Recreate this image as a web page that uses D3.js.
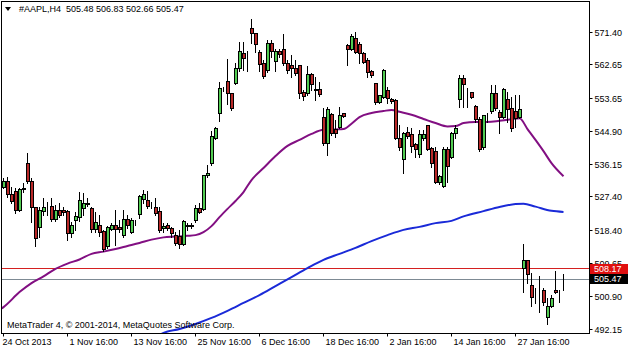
<!DOCTYPE html>
<html>
<head>
<meta charset="utf-8">
<script src="https://cdn.jsdelivr.net/npm/d3@7"></script>
<style>
  body { margin: 0; background: #fff; }
  text { font-family: "Liberation Sans", Arial, sans-serif; font-size: 9px; fill: #000; }
</style>
</head>
<body>
<div id="chart"></div>
<script>
// H4 bars, oldest first
let opens = [529.96,531.46,527.91,528.79,523.90,529.43,536.18,531.46,524.63,519.29,523.45,524.63,524.97,521.24,523.90,523.90,523.45,517.69,521.05,521.95,
  524.36,525.51,524.36,518.57,519.90,518.12,514.11,518.76,519.90,519.29,517.23,521.24,517.85,521.05,522.57,526.76,526.57,524.97,524.57,523.45,
  519.02,519.90,519.02,517.23,516.70,514.75,519.63,519.68,521.05,524.36,524.09,532.98,536.18,543.04,549.53,556.28,558.15,555.05,557.72,561.54,
  565.73,564.55,572.40,571.06,565.99,562.87,561.08,568.21,563.48,566.15,566.79,563.06,562.34,561.72,562.34,555.21,555.05,559.93,555.93,556.12,
  548.65,541.71,549.26,545.26,545.87,549.53,567.67,566.79,569.73,567.94,565.73,563.75,560.82,557.53,552.54,553.98,555.66,553.45,553.00,543.04,
  537.25,544.53,544.11,541.25,538.58,543.04,546.32,540.37,539.47,531.19,530.12,540.11,537.97,544.19,553.26,559.05,555.05,555.32,551.47,547.92,
  540.64,548.81,550.14,555.05,549.87,548.65,553.45,551.05,550.14,548.65,508.35,510.37,503.89,500.60,502.37,502.55,495.27,498.10,502.37,501.94,
  505.48];
let highs = [532.37,532.79,530.12,529.70,529.70,531.03,539.04,532.37,524.79,524.79,527.19,526.12,527.19,525.24,525.69,524.63,523.90,520.78,523.45,528.79,
  528.52,527.03,524.79,523.29,522.57,518.57,519.63,520.52,523.90,521.24,523.90,522.57,521.69,521.24,527.91,529.24,529.06,526.12,527.03,524.79,
  520.36,520.36,519.45,518.12,518.57,521.24,520.36,520.36,525.24,525.69,533.25,535.92,545.07,545.98,558.15,556.81,564.12,555.21,563.06,568.82,
  568.82,566.42,574.80,571.22,566.61,563.94,569.27,569.27,566.79,566.79,570.88,563.94,565.27,563.94,562.60,555.93,562.34,560.39,559.32,558.15,
  551.05,551.31,549.71,547.92,551.31,549.87,568.21,570.88,571.49,568.82,566.15,564.39,561.27,557.88,554.60,561.46,556.81,553.72,553.45,546.59,
  544.80,546.14,545.71,541.71,545.26,545.26,546.59,540.80,540.80,533.25,540.64,540.64,544.80,546.59,559.93,559.93,556.38,555.48,551.93,548.65,
  549.26,549.71,557.27,557.27,550.59,556.38,555.48,554.14,554.60,554.60,514.83,510.56,507.01,503.01,506.29,503.01,500.34,501.22,507.71,502.55,
  506.83];
let lows = [529.70,527.45,525.69,523.18,523.72,528.79,531.03,520.78,514.38,516.78,522.57,522.57,521.05,521.05,522.12,522.57,515.90,516.62,518.57,521.05,
  522.57,524.97,518.12,518.12,516.97,513.00,513.68,518.57,514.56,518.12,516.78,519.07,517.69,519.90,521.69,525.69,524.36,524.36,522.57,518.12,
  518.12,518.57,516.78,514.56,513.68,514.56,518.57,519.02,520.78,523.03,523.90,532.79,535.92,542.77,547.74,555.74,552.19,550.59,557.53,561.08,
  561.27,561.08,568.39,566.15,561.08,559.05,560.82,564.82,561.08,564.82,562.60,560.39,559.48,559.93,553.72,553.26,554.60,555.93,553.26,554.33,
  541.25,538.58,543.92,543.47,545.71,548.65,562.60,566.61,565.73,563.22,563.06,559.48,559.32,552.19,552.38,553.72,552.38,552.38,542.77,539.92,
  533.70,543.04,539.47,538.13,538.13,542.59,539.92,535.46,531.03,530.84,529.97,531.46,537.70,543.04,551.48,551.48,551.48,553.72,547.47,539.73,
  540.11,547.47,549.71,550.59,544.54,548.38,547.47,545.07,546.14,548.38,502.10,504.34,498.28,499.17,496.76,498.55,493.48,497.94,501.67,499.44,
  502.66];
let closes = [531.46,527.91,526.12,523.90,529.43,529.70,531.46,524.63,516.35,523.90,524.63,524.55,521.24,523.90,522.38,523.29,517.69,519.90,522.12,526.57,
  525.51,525.45,518.57,520.52,517.85,513.23,519.29,519.90,518.57,518.57,521.24,519.90,521.05,521.00,527.45,528.09,524.97,524.90,523.03,518.38,
  519.63,519.02,517.50,515.02,514.83,520.78,519.68,519.63,524.36,523.18,533.06,533.70,543.47,545.71,556.38,556.33,555.05,550.86,561.72,566.15,
  564.20,564.55,570.88,567.94,562.60,559.48,568.21,566.15,566.15,565.46,563.06,561.08,561.54,560.20,554.86,554.14,559.93,557.27,555.90,554.60,
  541.71,550.59,544.19,544.37,549.07,548.81,566.79,570.16,565.89,565.54,563.22,560.55,559.67,552.54,554.33,561.08,553.72,552.81,543.04,540.64,
  544.37,543.47,540.80,539.92,543.92,544.11,540.11,536.37,531.19,532.79,539.92,535.46,544.19,545.71,559.05,557.27,555.00,553.98,547.92,540.11,
  548.99,548.81,555.05,551.04,548.65,555.93,550.78,545.71,548.38,550.59,510.37,506.56,500.60,500.62,502.40,499.17,498.10,500.34,501.83,501.94,
  505.47];

// moving averages, read at some bars [bar, price]
let maFast = [[-1,497.3],[0,498.0],[4,502.0],[7,504.4],[10,506.2],[13,508.2],[16,509.6],[19,510.7],[22,512.2],[25,512.8],[28,513.5],[31,514.3],
  [34,515.1],[37,516.0],[40,516.6],[43,516.8],[46,517.0],[48,517.2],[50,518.0],[52,519.6],[54,522.0],[56,524.2],[58,526.3],[60,528.7],[62,531.9],
  [65,535.1],[68,538.3],[71,541.0],[74,542.6],[77,544.2],[80,545.3],[83,545.4],[85,545.5],[87,546.9],[89,548.7],[92,549.8],[95,550.3],[97,550.6],
  [99,550.1],[102,549.3],[105,548.2],[108,547.1],[111,546.2],[113,546.3],[115,547.1],[118,547.4],[121,547.4],[124,547.7],[127,548.1],[129,548.4],
  [131,545.5],[133,542.6],[135,539.6],[137,536.4],[140,532.9]];
let maSlow = [[38,490.0],[40,491.1],[44,492.15],[48,493.5],[52,495.1],[56,497.0],[60,499.1],[64,501.2],[68,503.6],[72,506.0],[76,508.4],[80,510.6],
  [84,512.2],[88,513.8],[92,515.6],[96,517.2],[100,518.6],[104,519.4],[108,520.4],[112,521.0],[115,522.2],[120,523.6],[124,524.7],[128,525.5],
  [130,525.6],[133,524.8],[137,523.7],[140,523.4]];

let priceTicks = [571.40, 562.65, 553.65, 544.90, 536.15, 527.40, 518.40, 509.65, 500.90, 492.15];
let timeTicks = [0, 16, 32, 48, 64, 80, 96, 112, 128];
let timeLabels = ["24 Oct 2013", "1 Nov 16:00", "13 Nov 16:00", "25 Nov 16:00", "6 Dec 16:00", "18 Dec 16:00", "2 Jan 16:00", "14 Jan 16:00", "27 Jan 16:00"];
let askLevel = 508.17, bidLevel = 505.47;
let title = "#AAPL,H4  505.48 506.83 502.66 505.47";

let W = 628, H = 350;
let plotLeft = 1.5, plotTop = 1.5, plotRight = 589.5, plotBottom = 333.5;

let svg = d3.select("#chart").append("svg").attr("width", W).attr("height", H);

let x = d3.scaleLinear().domain([0, 1]).range([3.5, 7.5]);
let y = d3.scaleLinear().domain([492.15, 571.40]).range([329, 32]);
let crisp = v => Math.round(v - 0.5) + 0.5;

svg.append("clipPath").attr("id", "plot").append("rect")
    .attr("x", plotLeft + 0.5).attr("y", plotTop + 0.5).attr("width", plotRight - plotLeft - 1).attr("height", plotBottom - plotTop - 1);

let plot = svg.append("g").attr("clip-path", "url(#plot)");

// level lines
plot.append("line").attr("x1", plotLeft).attr("x2", plotRight).attr("y1", crisp(y(askLevel))).attr("y2", crisp(y(askLevel)))
    .style("stroke", "#d42020").style("stroke-width", 1);
plot.append("line").attr("x1", plotLeft).attr("x2", plotRight).attr("y1", crisp(y(bidLevel))).attr("y2", crisp(y(bidLevel)))
    .style("stroke", "#7d8a94").style("stroke-width", 1);

// moving averages
let maLine = d3.line().x(d => x(d[0])).y(d => y(d[1])).curve(d3.curveMonotoneX);
plot.append("path").datum(maSlow).attr("d", maLine)
    .style("fill", "none").style("stroke", "#1a2ad8").style("stroke-width", 2);
plot.append("path").datum(maFast).attr("d", maLine)
    .style("fill", "none").style("stroke", "#820f82").style("stroke-width", 2);

// candles
let bars = d3.range(opens.length);
let candle = plot.selectAll("g.candle").data(bars).enter().append("g").attr("class", "candle");
candle.append("line")
    .attr("x1", i => x(i)).attr("x2", i => x(i))
    .attr("y1", i => Math.round(y(highs[i]))).attr("y2", i => Math.round(y(lows[i])) + 1)
    .style("stroke", "#000").style("stroke-width", 1);
candle.append("rect")
    .attr("x", i => x(i) - 1)
    .attr("y", i => crisp(y(Math.max(opens[i], closes[i]))))
    .attr("width", 3)
    .attr("height", i => Math.max(0, crisp(y(Math.min(opens[i], closes[i]))) - crisp(y(Math.max(opens[i], closes[i])))))
    .style("fill", i => closes[i] >= opens[i] ? "#52cc52" : "#b82828")
    .style("stroke", "#000").style("stroke-width", 1);

// frame
svg.append("rect").attr("x", plotLeft).attr("y", plotTop).attr("width", plotRight - plotLeft).attr("height", plotBottom - plotTop)
    .style("fill", "none").style("stroke", "#000").style("stroke-width", 1);

// price axis
let yTick = svg.append("g").selectAll("g").data(priceTicks).enter().append("g")
    .attr("transform", d => "translate(" + plotRight + "," + crisp(y(d)) + ")");
yTick.append("line").attr("x1", 0).attr("x2", 3).style("stroke", "#000");
yTick.append("text").attr("x", 5).attr("dy", "0.35em").text(d => d.toFixed(2));

// price labels for the level lines (they sit over the axis text, as in the terminal)
{
    let levels = [[askLevel, "#e01010"], [bidLevel, "#000"]];
    for (let i = 0; i < levels.length; ++i) {
        let yy = Math.round(y(levels[i][0]));
        let g = svg.append("g").attr("transform", "translate(" + (plotRight + 0.5) + "," + yy + ")");
        g.append("rect").attr("x", 0).attr("y", -5).attr("width", W - plotRight).attr("height", 10).style("fill", levels[i][1]);
        g.append("text").attr("x", 4).attr("dy", "0.35em").style("fill", "#fff").text(levels[i][0].toFixed(2));
    }
}

// time axis
let xTick = svg.append("g").selectAll("g").data(timeTicks).enter().append("g")
    .attr("transform", d => "translate(" + x(d) + "," + plotBottom + ")");
xTick.append("line").attr("y1", 0).attr("y2", 3).style("stroke", "#000");
xTick.append("text").attr("x", (d, i) => i == 0 ? -1 : 2).attr("y", 11).text((d, i) => timeLabels[i]);

// title and copyright
svg.append("path").attr("d", "M5,7 L11,7 L8,11 Z").style("fill", "#000");
svg.append("text").attr("x", 19).attr("y", 12).attr("xml:space", "preserve").style("white-space", "pre").text(title);
svg.append("text").attr("x", 7).attr("y", 328).text("MetaTrader 4, \u00a9 2001-2014, MetaQuotes Software Corp.");
</script>
</body>
</html>
